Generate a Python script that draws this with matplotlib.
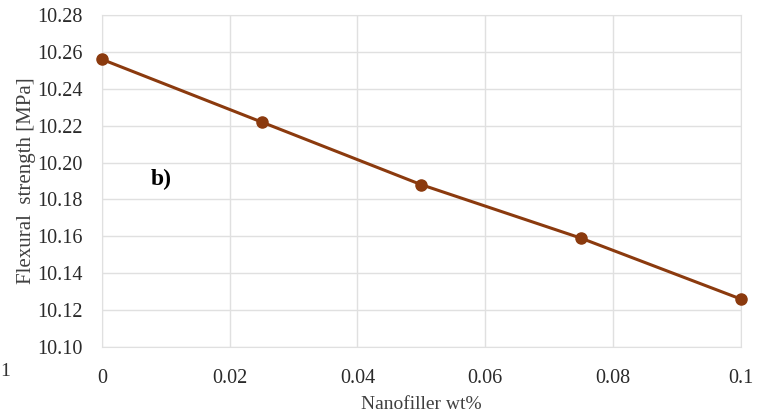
import matplotlib
matplotlib.use("Agg")
import matplotlib.pyplot as plt

x_vals = [0, 0.025, 0.05, 0.075, 0.1]
strength = [10.256, 10.222, 10.188, 10.159, 10.126]
x_ticks = [0, 0.02, 0.04, 0.06, 0.08, 0.1]
x_tick_labels = ["0", "0.02", "0.04", "0.06", "0.08", "0.1"]
y_ticks = [10.10, 10.12, 10.14, 10.16, 10.18, 10.20, 10.22, 10.24, 10.26, 10.28]
y_tick_labels = [f"{v:.2f}" for v in y_ticks]

plt.rcParams['font.family'] = ['Liberation Serif', 'DejaVu Serif']

fig = plt.figure(figsize=(7.66, 4.19), dpi=100)
ax = fig.add_axes([0.133, 0.172, 0.834, 0.792])

color = "#8B3A0E"
ax.plot(x_vals, strength, color=color, lw=2.2, marker="o", ms=8, zorder=3, clip_on=False)

ax.set_xlim(0, 0.1)
ax.set_ylim(10.10, 10.28)
ax.set_xticks(x_ticks)
ax.set_xticklabels(x_tick_labels)
ax.set_yticks(y_ticks)
ax.set_yticklabels(y_tick_labels)
ax.grid(True, color="#e0e0e0", lw=1)
for s in ax.spines.values():
    s.set_color("#e0e0e0")
ax.tick_params(length=0, labelsize=14.5, labelcolor="#2a2a2a", pad=14)
ax.tick_params(axis="x", pad=16)
ax.set_axisbelow(True)

ax.set_xlabel("Nanofiller wt%", fontsize=14, color="#404040", labelpad=6)
ax.set_ylabel("Flexural  strength [MPa]", fontsize=15, color="#404040")
ax.yaxis.set_label_coords(-0.103, 0.5)
ax.text(0.0076, 10.191, "b)", fontsize=17, fontweight="bold", color="black", va="center")
fig.text(0.0, 0.113, "1", fontsize=14, color="#333333", ha="left", va="center")

fig.savefig("out.png", dpi=100)
